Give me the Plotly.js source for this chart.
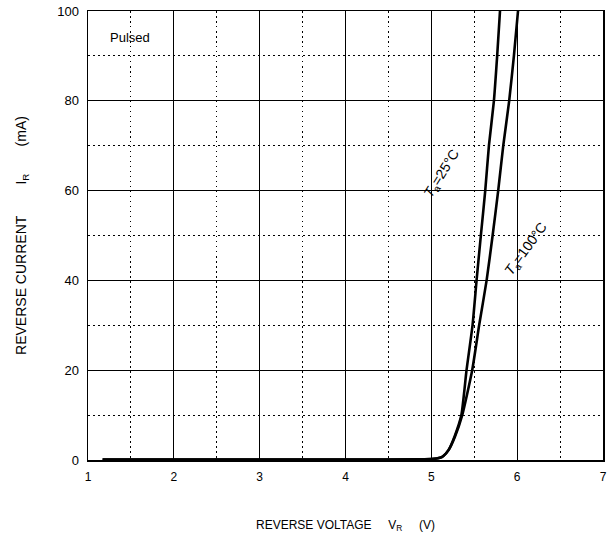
<!DOCTYPE html>
<html>
<head>
<meta charset="utf-8">
<script src="https://cdn.plot.ly/plotly-3.0.1.min.js"></script>
<style>
  html, body { margin: 0; padding: 0; background: #fff; }
  #chart { width: 613px; height: 543px; }
</style>
</head>
<body>
<div id="chart"></div>
<script>
// Reverse voltage (V) vs. reverse current (mA), pulsed measurement
const currentMA = [0.1, 0.1, 0.1, 0.1, 0.2, 0.5, 0.9, 2.2, 5.2, 10, 20, 30, 40, 50, 60, 70, 80, 90, 100];
const voltage25C = [1.17, 2, 3, 4, 5.0, 5.1, 5.14, 5.2, 5.27, 5.35, 5.41, 5.48, 5.527, 5.577, 5.628, 5.671, 5.729, 5.767, 5.80];
const voltage100C = [1.17, 2, 3, 4, 5.0, 5.1, 5.14, 5.2, 5.275, 5.36, 5.476, 5.557, 5.644, 5.714, 5.779, 5.838, 5.907, 5.962, 6.01];

const xTicks = [1, 2, 3, 4, 5, 6, 7];
const yTicks = [0, 20, 40, 60, 80, 100];

const FONT = 'Liberation Sans, Arial, sans-serif';
const gap = n => '&nbsp;'.repeat(n);

const curveLine = { color: '#000', width: 2.6, shape: 'spline', smoothing: 0.5 };

const traces = [
  { x: voltage25C, y: currentMA, mode: 'lines', line: curveLine, hoverinfo: 'skip' },
  { x: voltage100C, y: currentMA, mode: 'lines', line: curveLine, hoverinfo: 'skip' }
];

const axisCommon = {
  showline: true, mirror: true, linecolor: '#000', linewidth: 1.5,
  showgrid: true, gridcolor: '#000', gridwidth: 1.2,
  zeroline: false, ticks: '',
  minor: { showgrid: true, gridcolor: '#000', gridwidth: 1, griddash: '1.5px,3.5px' }
};

const layout = {
  width: 613, height: 543,
  margin: { l: 88, r: 10, t: 11, b: 83 },
  paper_bgcolor: '#fff', plot_bgcolor: '#fff',
  showlegend: false,
  font: { family: FONT, color: '#000' },
  xaxis: Object.assign({}, axisCommon, {
    range: [1, 7], tickvals: xTicks, ticktext: xTicks.map(String),
    tickfont: { family: FONT, size: 12, color: '#000' },
    ticklabelstandoff: 5,
    minor: Object.assign({}, axisCommon.minor, { tick0: 1.5, dtick: 1 }),
    title: { text: 'REVERSE VOLTAGE' + gap(5) + 'V<sub>R</sub>' + gap(5) + '(V)',
             font: { family: FONT, size: 12, color: '#000' }, standoff: 37 }
  }),
  yaxis: Object.assign({}, axisCommon, {
    range: [0, 100], tickvals: yTicks, ticktext: yTicks.map(String),
    tickfont: { family: FONT, size: 13, color: '#000' },
    ticklabelstandoff: 5,
    minor: Object.assign({}, axisCommon.minor, { tick0: 10, dtick: 20 }),
    title: { text: 'REVERSE CURRENT' + gap(8) + 'I<sub>R</sub>' + gap(7) + '(mA)',
             font: { family: FONT, size: 14, color: '#000' }, standoff: 27 }
  }),
  annotations: [
    { x: 1.23, y: 94, xref: 'x', yref: 'y', text: 'Pulsed', showarrow: false,
      xanchor: 'left', yanchor: 'middle', font: { family: FONT, size: 13, color: '#000' } },
    { x: 5.12, y: 63.8, xref: 'x', yref: 'y', text: '<i>T</i><sub>a</sub>=25°C', showarrow: false,
      textangle: -58, font: { family: FONT, size: 14, color: '#000' } },
    { x: 6.11, y: 46.9, xref: 'x', yref: 'y', text: '<i>T</i><sub>a</sub>=100°C', showarrow: false,
      textangle: -54, font: { family: FONT, size: 14, color: '#000' } }
  ]
};

Plotly.newPlot('chart', traces, layout, { staticPlot: true, displayModeBar: false });
</script>
</body>
</html>
